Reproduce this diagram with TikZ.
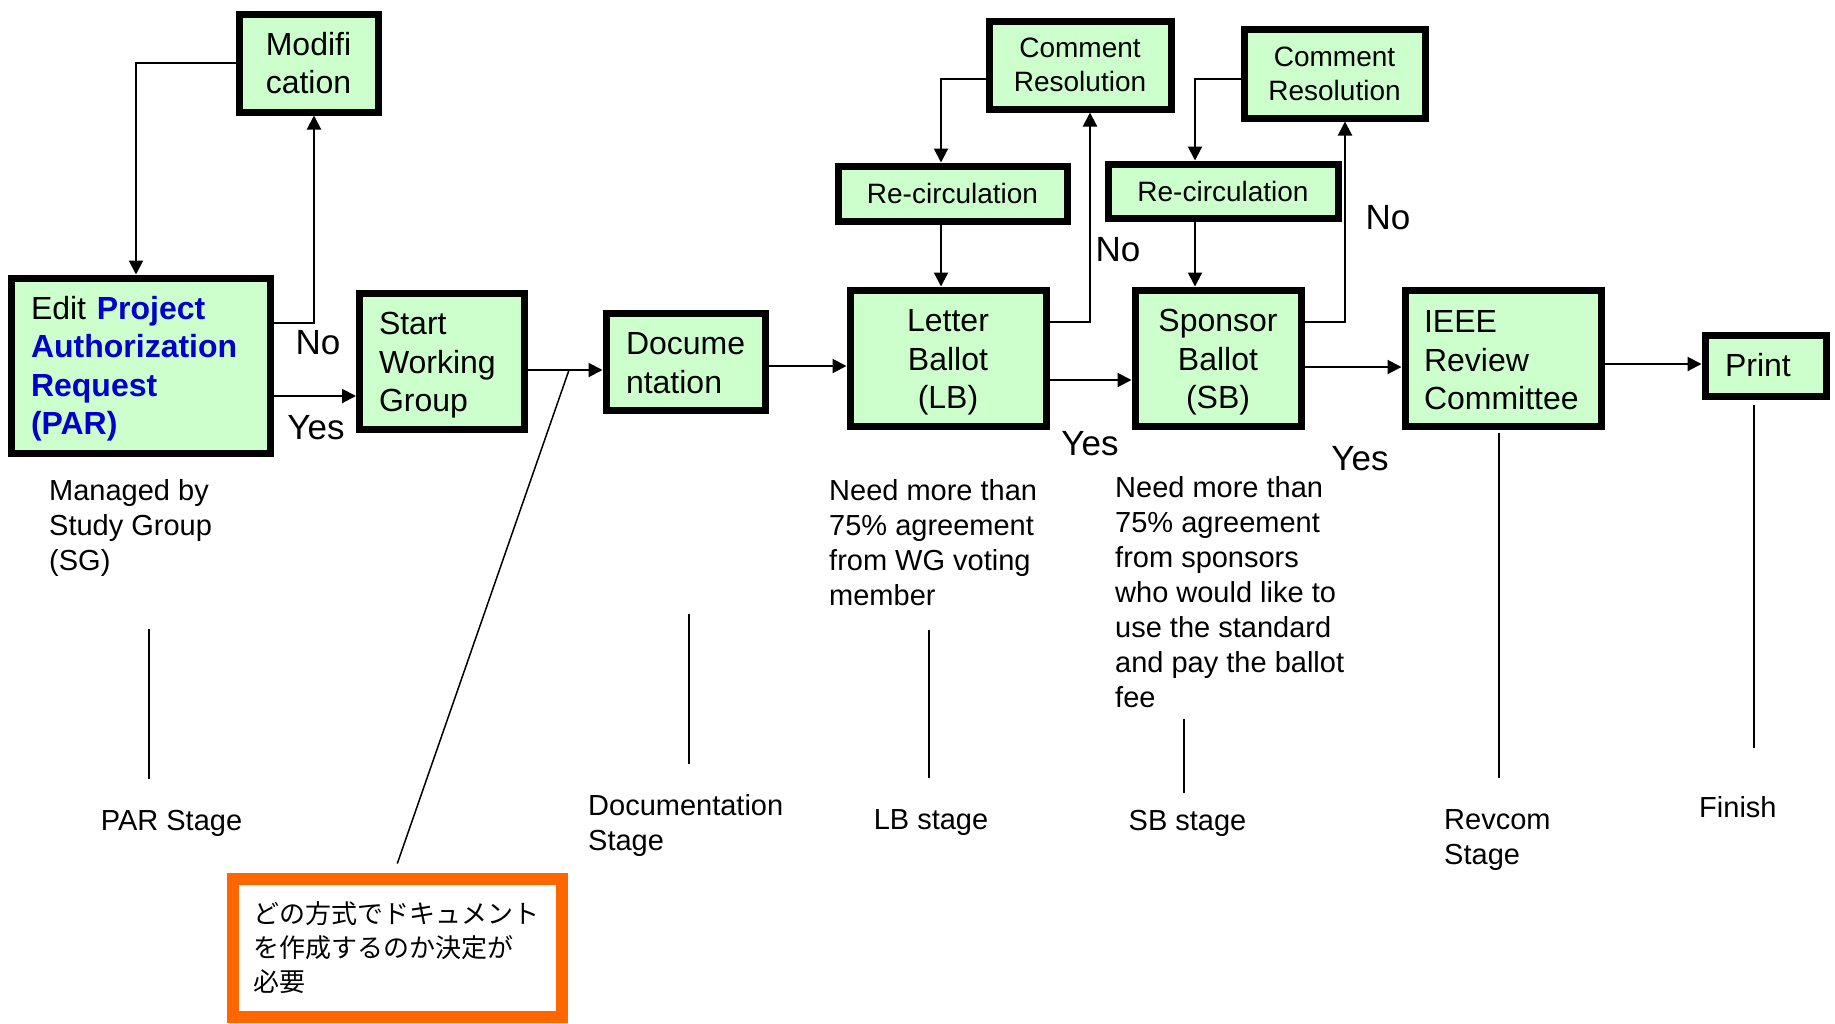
\documentclass[tikz,border=0pt]{standalone}
\usepackage{fontspec}
\setmainfont{Liberation Sans}
\newfontfamily\cjk{Noto Sans CJK JP}
\usetikzlibrary{arrows.meta}
\definecolor{boxgreen}{RGB}{204,255,204}
\definecolor{parblue}{RGB}{0,0,204}
\definecolor{noteorange}{RGB}{255,102,0}
\newcommand\pushdown[1]{\rule{0pt}{#1pt}}
\begin{document}
\begin{tikzpicture}[x=1pt,y=-1pt,
 box/.style={draw, line width=7pt, fill=boxgreen, inner sep=0pt, font=\fontsize{32}{38.5}\selectfont},
 smallbox/.style={box, font=\fontsize{28}{34}\selectfont},
 arr/.style={line width=2pt, -{Triangle[length=14pt,width=14pt]}},
 stageline/.style={line width=1.5pt},
 yn/.style={inner sep=0pt, font=\fontsize{35}{40}\selectfont},
 note/.style={inner sep=0pt, align=left, font=\fontsize{29}{35}\selectfont},
]
\useasboundingbox (0,0) rectangle (1835,1023);

% boxes
\node[box, minimum width=139pt, minimum height=98pt, align=center] (mod) at (308.5,63) {Modifi\\cation};
\node[box, minimum width=259pt, minimum height=175pt, text width=219pt, align=left] (parbox) at (140.5,365.5)
  {\pushdown{29.5}Edit \textcolor{parblue}{\textbf{Project}}\\\textcolor{parblue}{\textbf{Authorization}}\\\textcolor{parblue}{\textbf{Request}}\\\textcolor{parblue}{\textbf{(PAR)}}};
\node[box, minimum width=165pt, minimum height=136pt, text width=126pt, align=left] (swg) at (442,361) {\pushdown{31.5}Start\\Working\\Group};
\node[box, minimum width=159pt, minimum height=97pt, text width=119pt, align=left] (doc) at (685.5,361.5) {\pushdown{25.5}Docume\\ntation};
\node[box, minimum width=196pt, minimum height=136pt, align=center] (lb) at (948,358) {\pushdown{31.5}Letter\\Ballot\\(LB)};
\node[smallbox, minimum width=182pt, minimum height=88pt, align=center] (cr1) at (1080,65) {Comment\\Resolution};
\node[smallbox, minimum width=229pt, minimum height=55pt] (rc1) at (952.5,193.5) {Re-circulation};
\node[box, minimum width=166pt, minimum height=136pt, align=center] (sb) at (1218,358) {\pushdown{31.5}Sponsor\\Ballot\\(SB)};
\node[smallbox, minimum width=230pt, minimum height=54pt] (rc2) at (1223,191) {Re-circulation};
\node[smallbox, minimum width=181pt, minimum height=89pt, align=center] (cr2) at (1334.5,73.5) {Comment\\Resolution};
\node[box, minimum width=196pt, minimum height=136pt, text width=158pt, align=left] (ieee) at (1503,358) {\pushdown{27}IEEE\\Review\\Committee};
\node[box, minimum width=121pt, minimum height=61pt, text width=81pt, align=left] (prt) at (1765.5,365.5) {Print};

% orange note
\node[draw=noteorange, line width=12pt, fill=white, minimum width=329pt, minimum height=138pt,
  text width=289pt, align=left, inner sep=0pt, font=\cjk\fontsize{26}{34}\selectfont] (note) at (397.5,948)
  {どの方式でドキュメント\\を作成するのか決定が\\必要};

% connectors
\draw[arr] (mod.west) -| ([xshift=-4.5pt]parbox.north);
\draw[arr] ([yshift=42.5pt]parbox.east) -| ([xshift=5.5pt]mod.south);
\draw[arr] ([yshift=-30.5pt]parbox.east) -- ([yshift=-30.5pt]parbox.east -| swg.west);
\draw[arr] ([yshift=-9pt]swg.east) -- ([yshift=-9pt]swg.east -| doc.west);
\draw[arr] ([yshift=-4.5pt]doc.east) -- ([yshift=-4.5pt]doc.east -| lb.west);
\draw[arr] ([yshift=-22pt]lb.east) -- ([yshift=-22pt]lb.east -| sb.west);
\draw[arr] ([yshift=36pt]lb.east) -| ([xshift=10pt]cr1.south);
\draw[arr] ([yshift=-14pt]cr1.west) -| ([xshift=-11.5pt]rc1.north);
\draw[arr] ([xshift=-11.5pt]rc1.south) -- ([xshift=-11.5pt]rc1.south |- lb.north);
\draw[arr] ([yshift=-9pt]sb.east) -- ([yshift=-9pt]sb.east -| ieee.west);
\draw[arr] ([yshift=36pt]sb.east) -| ([xshift=10.5pt]cr2.south);
\draw[arr] ([yshift=-5.5pt]cr2.west) -| ([xshift=-28pt]rc2.north);
\draw[arr] ([xshift=-28pt]rc2.south) -- ([xshift=-28pt]rc2.south |- sb.north);
\draw[arr] ([yshift=-6pt]ieee.east) -- ([yshift=-6pt]ieee.east -| prt.west);

% diagonal pointer to note
\coordinate (dj) at (569,370);
\draw[line width=1.5pt, shorten >=10pt] (dj) -- ([xshift=-3.5pt]note.north);

% yes / no labels
\node[yn] (no1) at (318,343) {No};
\node[yn] (yes1) at (316,428) {Yes};
\node[yn] (no2) at (1118,250) {No};
\node[yn] (yes2) at (1090,444) {Yes};
\node[yn] (no3) at (1388,218) {No};
\node[yn] (yes3) at (1360,459) {Yes};

% notes
\node[note, anchor=west] (sgnote) at (49,528) {Managed by\\Study Group\\(SG)};
\node[note, anchor=west] (lbnote) at (829,542.5) {Need more than\\75\% agreement\\from WG voting\\member};
\node[note, anchor=west] (sbnote) at (1115,592.5) {Need more than\\75\% agreement\\from sponsors\\who would like to\\use the standard\\and pay the ballot\\fee};
\node[note] (parst) at (171.5,823) {PAR Stage};
\node[note, anchor=west] (docst) at (588,825) {Documentation\\Stage};
\node[note] (lbst) at (931,823) {LB stage};
\node[note] (sbst) at (1187.5,823) {SB stage};
\node[note, anchor=west] (revst) at (1444,840) {Revcom\\Stage};
\node[note, anchor=west] (fin) at (1699,807) {Finish};

% stage lines
\coordinate (s1a) at (149,629);  \coordinate (s1b) at (149,779);
\coordinate (s2a) at (689,614);  \coordinate (s2b) at (689,764);
\coordinate (s3a) at (929,630);  \coordinate (s3b) at (929,778);
\coordinate (s4a) at (1184,719); \coordinate (s4b) at (1184,793);
\coordinate (s5a) at (1499,433); \coordinate (s5b) at (1499,778);
\coordinate (s6a) at (1754,405); \coordinate (s6b) at (1754,748);
\draw[stageline] (s1a) -- (s1b);
\draw[stageline] (s2a) -- (s2b);
\draw[stageline] (s3a) -- (s3b);
\draw[stageline] (s4a) -- (s4b);
\draw[stageline] (s5a) -- (s5b);
\draw[stageline] (s6a) -- (s6b);
\end{tikzpicture}
\end{document}
